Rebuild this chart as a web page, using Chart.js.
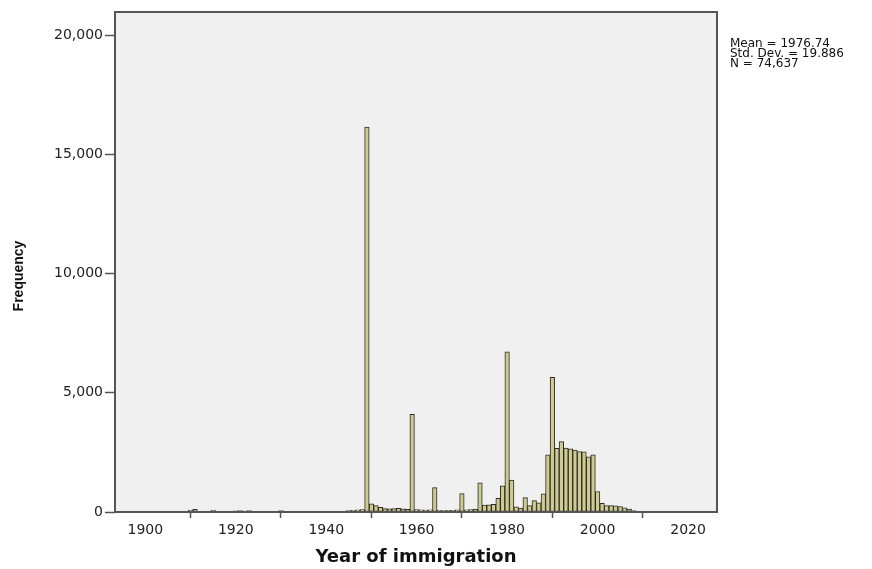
<!DOCTYPE html>
<html>
<head>
<meta charset="utf-8">
<title>Year of immigration</title>
<script src="https://cdn.jsdelivr.net/npm/chart.js@4/dist/chart.umd.min.js"></script>
<style>
    html, body { margin: 0; padding: 0; background: #ffffff; }
    canvas { display: block; }
</style>
</head>
<body>
<canvas id="histogram" width="872" height="569"></canvas>
<script>
"use strict";

// one bin per year, starting at firstYear
var firstYear = 1909;
var frequencies = [
    0, 80, 110, 20, 15, 20, 70, 20, 10, 10, 20,              // 1909-1919
    50, 60, 40, 60, 30, 25, 20, 20, 25, 30,                  // 1920s
    60, 25, 20, 20, 30, 25, 20, 25, 30, 30,                  // 1930s
    25, 20, 20, 25, 35, 60, 75, 90, 100, 16150,              // 1940s
    340, 270, 200, 140, 130, 140, 150, 130, 110, 4100,       // 1950s
    100, 90, 80, 90, 1020, 70, 60, 70, 70, 90,               // 1960s
    770, 90, 100, 120, 1220, 290, 300, 320, 570, 1100,       // 1970s
    6720, 1340, 220, 160, 600, 265, 480, 390, 760, 2400,     // 1980s
    5650, 2670, 2950, 2680, 2650, 2600, 2540, 2520, 2320, 2400, // 1990s
    860, 360, 270, 265, 260, 225, 180, 125, 55               // 2000-2008
];
var years = frequencies.map(function(count, index)
{
    return firstYear + index;
});

var yearTicks = [1900, 1920, 1940, 1960, 1980, 2000, 2020];
var frequencyTicks = [0, 5000, 10000, 15000, 20000];
var statLines = ["Mean = 1976.74", "Std. Dev. = 19.886", "N = 74,637"];
var frequencyTitle = "Frequency";

var plotFrame =
{
    id: "plotFrame",
    beforeDatasetsDraw: function(chart)
    {
        var area = chart.chartArea;
        var ctx = chart.ctx;
        ctx.save();
        ctx.fillStyle = "#f0f0f0";
        ctx.fillRect(area.left, area.top, area.right - area.left, area.bottom - area.top);
        ctx.restore();
    },
    afterDraw: function(chart)
    {
        var area = chart.chartArea;
        var ctx = chart.ctx;
        ctx.save();
        ctx.strokeStyle = "#555555";
        ctx.lineWidth = 2;
        ctx.strokeRect(area.left, area.top, area.right - area.left, area.bottom - area.top);

        // summary statistics beside the plot
        ctx.fillStyle = "#111111";
        ctx.font = "12px 'DejaVu Sans'";
        ctx.textAlign = "left";
        ctx.textBaseline = "alphabetic";
        statLines.forEach(function(line, i)
        {
            ctx.fillText(line, area.right + 13, 46.5 + i * 10);
        });

        // vertical axis title, set a little below the plot centre
        ctx.font = "bold 14px 'Liberation Sans'";
        ctx.textAlign = "center";
        ctx.textBaseline = "middle";
        ctx.translate(19, 276);
        ctx.rotate(-Math.PI / 2);
        ctx.fillText(frequencyTitle, 0, 0);
        ctx.restore();
    }
};

var ctx = document.getElementById("histogram").getContext("2d");
var chart = new Chart(ctx,
{
    type: "bar",
    data:
    {
        datasets: [
        {
            data: years.map(function(year, i)
            {
                return { x: year, y: frequencies[i] };
            }),
            backgroundColor: "#cfca94",
            borderColor: "#2b2b20",
            borderWidth: 1,
            borderSkipped: false,
            categoryPercentage: 1,
            barPercentage: 1
        }]
    },
    options:
    {
        responsive: false,
        animation: false,
        layout: { padding: { left: 0, top: 12, right: 155, bottom: 0 } },
        plugins:
        {
            legend: { display: false },
            tooltip: { enabled: false }
        },
        scales:
        {
            x:
            {
                type: "linear",
                offset: false,
                min: 1893.3,
                max: 2026.4,
                afterBuildTicks: function(scale)
                {
                    scale.ticks = yearTicks.map(function(v) { return { value: v }; });
                },
                afterFit: function(scale)
                {
                    scale.height = 57;
                },
                border: { display: false },
                grid:
                {
                    drawOnChartArea: false,
                    drawTicks: true,
                    tickLength: 6,
                    tickColor: "#555555",
                    tickWidth: 1.5
                },
                ticks:
                {
                    padding: 4,
                    color: "#222222",
                    font: { family: "'DejaVu Sans'", size: 14 },
                    maxRotation: 0,
                    callback: function(value)
                    {
                        return String(value);
                    }
                },
                title:
                {
                    display: true,
                    text: "Year of immigration",
                    color: "#111111",
                    font: { family: "'DejaVu Sans'", size: 18, weight: "bold" },
                    padding: { top: 0, bottom: 1 }
                }
            },
            y:
            {
                min: 0,
                max: 20980,
                afterBuildTicks: function(scale)
                {
                    scale.ticks = frequencyTicks.map(function(v) { return { value: v }; });
                },
                afterFit: function(scale)
                {
                    scale.width = 115;
                },
                border: { display: false },
                grid:
                {
                    drawOnChartArea: false,
                    drawTicks: true,
                    tickLength: 10,
                    tickColor: "#555555",
                    tickWidth: 1.5
                },
                ticks:
                {
                    padding: 2,
                    color: "#222222",
                    font: { family: "'DejaVu Sans'", size: 14 },
                    callback: function(value)
                    {
                        return value.toLocaleString("en-US");
                    }
                }
            }
        }
    },
    plugins: [plotFrame]
});
</script>
</body>
</html>
